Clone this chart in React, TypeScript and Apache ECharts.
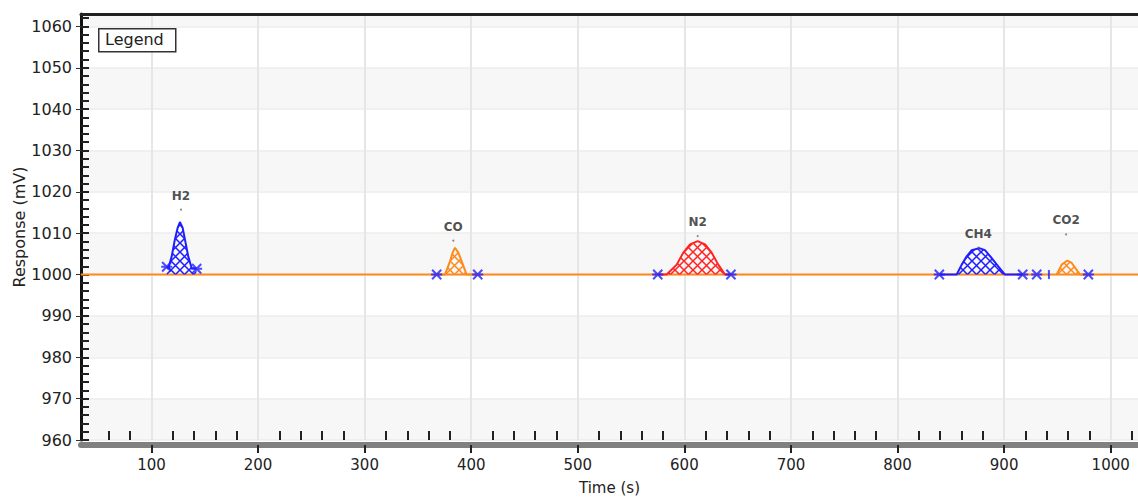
import React, { useEffect, useRef } from "react";
import * as echarts from "echarts";

// ---- axis extents & ticks ----
const X_MIN = 33.9;
const X_MAX = 1025.6;
const Y_MIN = 960;
const Y_MAX = 1063;
const xMajorTicks = [100, 200, 300, 400, 500, 600, 700, 800, 900, 1000];
const xMinorTicks = [
  60, 80, 120, 140, 160, 180, 220, 240, 260, 280, 320, 340, 360, 380, 420, 440, 460, 480,
  520, 540, 560, 580, 620, 640, 660, 680, 720, 740, 760, 780, 820, 840, 860, 880,
  920, 940, 960, 980, 1020,
];
const yInsideTicks = [
  960, 962, 964, 966, 968, 970, 972, 974, 976, 978, 980, 982, 984, 986, 988, 990, 992, 994, 996, 998,
  1000, 1002, 1004, 1006, 1008, 1010, 1012, 1014, 1016, 1018, 1020, 1022, 1024, 1026, 1028, 1030,
  1032, 1034, 1036, 1038, 1040, 1042, 1044, 1046, 1048, 1050, 1052, 1054, 1056, 1058, 1060, 1062,
];

// ---- series data (time s, response mV) ----
const baseline = [
  [33.9, 1000],
  [1025.6, 1000],
];
const h2Peak = [
  [114.3, 1001.9], [115.8, 1001.4], [119, 1004.4], [122, 1008.5], [124.6, 1011.3], [126.7, 1012.7],
  [129.3, 1011.3], [131.4, 1008.5], [134.5, 1004.4], [137.7, 1001.6], [142.4, 1001.4],
];
const coPeak = [
  [367.6, 1000], [375.4, 1000], [380.1, 1003.2], [382.6, 1005.3], [384.8, 1006.5], [387.9, 1005.3],
  [391.1, 1003.2], [395.7, 1000], [406.1, 1000],
];
const n2Peak = [
  [575, 1000], [583.4, 1000], [592.8, 1002.4], [599, 1005.3], [605.3, 1007.3], [612.5, 1008.1],
  [619.4, 1007.3], [625.6, 1005.3], [631.8, 1002.4], [638.1, 1000], [643.7, 1000],
];
const ch4Peak = [
  [839.2, 1000], [855.5, 1000], [860.2, 1002.4], [864.9, 1004.4], [869.6, 1005.9], [876.7, 1006.4],
  [882, 1005.9], [888.3, 1004], [894.5, 1002], [900.8, 1000], [917.4, 1000],
];
const co2Peak = [
  [949.3, 1000], [954, 1002.4], [959.3, 1003.4], [963.4, 1002.8], [971.2, 1000], [979, 1000],
];

// peak start/end markers
const markerX = [114.3, 142.4, 367.6, 406.1, 575, 643.7, 839.2, 917.4, 930.6, 942, 979];
const markerY = [1001.9, 1001.4, 1000, 1000, 1000, 1000, 1000, 1000, 1000, 1000, 1000];
const markerKind = ["star", "star", "star", "star", "star", "star", "star", "star", "star", "bar", "star"];

// peak labels
const peakNames = ["H2", "CO", "N2", "CH4", "CO2"];
const peakLabelX = [127.7, 383.2, 612.5, 875.8, 958.1];
const peakDotY = [1015.7, 1008.2, 1009.3, 1006.5, 1009.7];

const BLUE = "#1e1eff";
const ORANGE = "#ff8a1c";
const RED = "#ff2424";
const FONT = "DejaVu Sans";

const STAR_PATH =
  "path://M0,4.1L10,4.1L10,5.9L0,5.9Z M1.5,0.2L9.8,8.5L8.5,9.8L0.2,1.5Z M8.5,0.2L9.8,1.5L1.5,9.8L0.2,8.5Z";

function makeHatch(color: string) {
  const size = 9;
  const c = document.createElement("canvas");
  c.width = size;
  c.height = size;
  const ctx = c.getContext("2d")!;
  ctx.strokeStyle = color;
  ctx.lineWidth = 1.5;
  ctx.beginPath();
  ctx.moveTo(-1, -1);
  ctx.lineTo(size + 1, size + 1);
  ctx.moveTo(size + 1, -1);
  ctx.lineTo(-1, size + 1);
  ctx.stroke();
  return { image: c, repeat: "repeat" };
}

function peakSeries(name: string, data: number[][], color: string) {
  return {
    name,
    type: "line",
    data,
    symbol: "none",
    z: 4,
    lineStyle: { color, width: 2 },
    areaStyle: { color: makeHatch(color) as any, origin: 1000, opacity: 1 },
  };
}

const plain = (v: number) => String(Math.round(v));

export default function App() {
  const ref = useRef<HTMLDivElement>(null);

  useEffect(() => {
    if (!ref.current) return;
    const chart = echarts.init(ref.current, undefined, { renderer: "svg" });

    const markerData = markerX.map((x, i) =>
      markerKind[i] === "bar"
        ? { value: [x, markerY[i]], symbol: "rect", symbolSize: [2, 9] }
        : { value: [x, markerY[i]], symbol: STAR_PATH, symbolSize: 11 }
    );
    const labelData = peakNames.map((n, i) => ({ name: n, value: [peakLabelX[i], peakDotY[i]] }));

    chart.setOption({
      animation: false,
      backgroundColor: "#ffffff",
      grid: {
        left: 81,
        right: 0,
        top: 14,
        bottom: 58,
        containLabel: false,
        outerBoundsMode: "none",
      },
      xAxis: [
        {
          type: "value",
          min: X_MIN,
          max: X_MAX,
          position: "bottom",
          offset: 5,
          name: "Time (s)",
          nameLocation: "middle",
          nameGap: 35,
          nameMoveOverlap: false,
          nameTextStyle: { fontFamily: FONT, fontSize: 15, color: "#222" },
          axisLine: { show: true, lineStyle: { color: "#808080", width: 6 } },
          axisTick: {
            show: true,
            customValues: xMajorTicks,
            length: 8,
            lineStyle: { color: "#222", width: 2 },
          },
          axisLabel: {
            show: true,
            customValues: xMajorTicks,
            formatter: plain,
            margin: 12,
            fontFamily: FONT,
            fontSize: 15,
            color: "#222",
          },
          splitLine: { show: true, lineStyle: { color: "#e6e6e6", width: 2 } },
          splitArea: { show: false },
        },
        {
          type: "value",
          min: X_MIN,
          max: X_MAX,
          position: "bottom",
          offset: 0,
          axisLine: { show: false },
          axisTick: {
            show: true,
            inside: true,
            customValues: xMinorTicks,
            length: 9,
            lineStyle: { color: "#222", width: 2 },
          },
          axisLabel: { show: false },
          splitLine: { show: false },
        },
        {
          type: "value",
          min: X_MIN,
          max: X_MAX,
          position: "top",
          axisLine: { show: true, lineStyle: { color: "#222", width: 3 } },
          axisTick: { show: false },
          axisLabel: { show: false },
          splitLine: { show: false },
        },
      ],
      yAxis: [
        {
          type: "value",
          min: Y_MIN,
          max: Y_MAX,
          interval: 10,
          position: "left",
          name: "Response (mV)",
          nameLocation: "middle",
          nameGap: 54,
          nameMoveOverlap: false,
          nameTextStyle: { fontFamily: FONT, fontSize: 16, color: "#222" },
          axisLine: { show: true, lineStyle: { color: "#111", width: 3 } },
          axisTick: { show: true, length: 5, lineStyle: { color: "#333", width: 1 } },
          axisLabel: {
            show: true,
            showMaxLabel: false,
            formatter: plain,
            margin: 9,
            fontFamily: FONT,
            fontSize: 16,
            color: "#222",
          },
          splitLine: { show: true, lineStyle: { color: "#ececec", width: 1.5 } },
          splitArea: { show: true, areaStyle: { color: ["#f7f7f7", "#ffffff"] } },
        },
        {
          type: "value",
          min: Y_MIN,
          max: Y_MAX,
          position: "left",
          offset: 0,
          axisLine: { show: false },
          axisTick: {
            show: true,
            inside: true,
            customValues: yInsideTicks,
            length: 8,
            lineStyle: { color: "#222", width: 2 },
          },
          axisLabel: { show: false },
          splitLine: { show: false },
          splitArea: { show: false },
        },
      ],
      series: [
        {
          name: "Baseline",
          type: "line",
          data: baseline,
          symbol: "none",
          z: 3,
          lineStyle: { color: ORANGE, width: 2 },
        },
        peakSeries("H2", h2Peak, BLUE),
        peakSeries("CO", coPeak, ORANGE),
        peakSeries("N2", n2Peak, RED),
        peakSeries("CH4", ch4Peak, BLUE),
        peakSeries("CO2", co2Peak, ORANGE),
        {
          name: "Markers",
          type: "scatter",
          data: markerData,
          z: 6,
          itemStyle: { color: BLUE },
        },
        {
          name: "Peak labels",
          type: "scatter",
          data: labelData,
          symbol: "circle",
          symbolSize: 2,
          z: 6,
          itemStyle: { color: "#666" },
          label: {
            show: true,
            position: "top",
            distance: 7,
            formatter: "{b}",
            fontFamily: FONT,
            fontSize: 12,
            fontWeight: "bold",
            color: "#222",
          },
        },
      ],
      graphic: [
        {
          type: "rect",
          left: 98,
          top: 28,
          shape: { width: 77, height: 23 },
          style: { fill: "#fff", stroke: "#333", lineWidth: 1.5 },
          z: 10,
        },
        {
          type: "text",
          left: 105,
          top: 31,
          style: { text: "Legend", fontFamily: FONT, fontSize: 16, fill: "#222" },
          z: 11,
        },
      ],
    });

    return () => chart.dispose();
  }, []);

  return (
    <div
      ref={ref}
      style={{ position: "absolute", left: 0, top: 0, width: 1138, height: 498 }}
    />
  );
}
